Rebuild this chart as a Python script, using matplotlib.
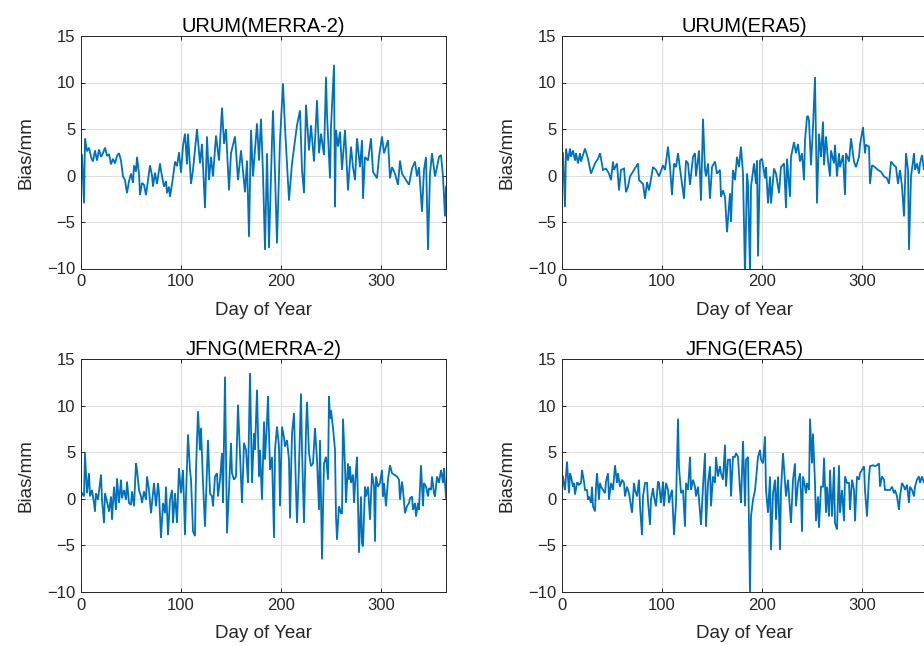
import matplotlib
matplotlib.use("Agg")
import matplotlib.pyplot as plt

plt.rcParams['font.family'] = ['Liberation Sans', 'DejaVu Sans']

# ---- URUM, MERRA-2 ----
urum_merra_day = [1, 3, 4, 6, 8, 10, 12, 14, 16, 18, 20, 22, 24, 26, 28, 30, 32, 34, 36, 38,
                  40, 42, 44, 46, 48, 50, 52, 53, 55, 56, 58, 59, 61, 63, 65, 67, 69, 71, 72, 74,
                  76, 79, 80, 83, 85, 86, 88, 89, 92, 94, 96, 98, 100, 102, 104, 106, 107, 110, 112, 116,
                  119, 121, 124, 126, 128, 130, 132, 135, 138, 141, 143, 145, 148, 150, 154, 157, 160, 164, 166, 168,
                  170, 172, 176, 178, 180, 182, 184, 186, 188, 191, 192, 194, 196, 199, 202, 204, 206, 208, 211, 214,
                  216, 219, 221, 223, 225, 228, 230, 233, 236, 238, 240, 243, 245, 246, 249, 250, 253, 254, 255, 257,
                  259, 261, 264, 267, 270, 272, 274, 276, 279, 281, 282, 284, 287, 290, 292, 296, 298, 301, 303, 307,
                  309, 311, 314, 317, 319, 321, 328, 331, 334, 336, 338, 341, 343, 345, 347, 349, 351, 354, 356, 358,
                  360, 362, 364, 365]
urum_merra_bias = [2.2, -3.0, 4.0, 2.6, 3.0, 2.0, 1.5, 2.7, 1.6, 2.8, 2.0, 2.4, 3.0, 2.1, 2.3, 1.2, 1.8, 1.3, 2.1, 2.4,
                   1.6, -0.1, -0.5, -1.9, -0.6, 0.2, -0.8, 1.1, 0.4, 2.0, 0.2, -2.1, -0.8, -1.0, -2.1, -0.5, 1.1, 0.0, -1.2, 0.3,
                   -0.9, 1.3, 0.5, -1.2, -0.6, -1.9, -1.2, -2.3, -0.2, 1.5, 1.0, 2.5, 0.3, 3.2, 4.5, 1.2, 4.5, -0.9, 0.6, 5.0,
                   1.3, 3.4, -3.5, 4.2, -0.5, 2.0, -0.1, 4.3, 1.6, 7.3, 3.4, 5.0, -1.6, 2.4, 4.2, -0.5, 2.7, -1.8, 1.6, -6.6,
                   4.9, -0.1, 5.6, 1.6, 6.1, 0.2, -8.0, 2.4, -7.8, 3.8, 7.0, 0.2, -7.3, 3.8, 9.9, 5.2, 1.3, -2.7, 1.3, 3.8,
                   5.4, 7.0, 0.6, -1.9, 7.6, 2.7, 5.4, 1.5, 8.1, 2.4, 4.5, 2.2, 10.6, 6.6, -0.3, 5.2, 11.9, -3.4, 4.9, 3.1,
                   4.7, 0.6, 4.9, -1.6, 3.1, 0.9, -0.5, 4.0, 0.9, 3.8, -2.5, 2.0, 1.6, 4.0, 0.4, -0.3, 2.0, 4.2, 2.4, 3.8,
                   -0.3, 0.9, 0.2, -1.0, 1.6, 0.2, -1.0, 0.75, 1.5, -0.1, 0.9, -3.9, 0.6, 2.0, -8.0, 0.2, 2.4, -0.1, 0.9, 2.0,
                   2.2, -0.1, -4.4, -1.2]

# ---- URUM, ERA5 ----
urum_era5_day = [1, 3, 4, 6, 8, 9, 11, 13, 14, 16, 18, 19, 21, 23, 26, 29, 33, 36, 38, 41,
                 44, 47, 49, 51, 52, 55, 57, 59, 62, 64, 66, 68, 72, 76, 77, 81, 83, 85, 87, 91,
                 94, 97, 101, 103, 106, 108, 110, 112, 114, 116, 119, 122, 124, 126, 128, 131, 133, 134, 137, 139,
                 141, 143, 144, 146, 148, 150, 153, 155, 158, 159, 161, 163, 165, 168, 169, 171, 173, 175, 177, 179,
                 181, 183, 185, 186, 188, 189, 192, 194, 195, 196, 198, 200, 203, 204, 206, 208, 209, 212, 214, 217,
                 219, 222, 224, 225, 228, 229, 232, 234, 236, 238, 240, 242, 243, 245, 246, 247, 249, 251, 253, 255,
                 257, 259, 261, 262, 264, 266, 268, 269, 272, 273, 275, 277, 278, 281, 283, 284, 287, 289, 292, 294,
                 297, 298, 301, 303, 304, 307, 308, 310, 313, 316, 319, 322, 325, 327, 329, 332, 334, 336, 338, 340,
                 342, 344, 346, 347, 349, 352, 353, 355, 357, 358, 360, 362, 364, 365]
urum_era5_bias = [2.4, -3.4, 2.9, 1.6, 2.9, 2.0, 2.7, 1.6, 2.4, 1.3, 2.4, 1.5, 2.2, 2.9, 1.8, 0.2, 1.3, 1.8, 2.4, 0.6,
                  0.75, 0.2, -0.5, 1.5, 0.6, 1.3, -1.6, 0.6, 0.75, -1.8, -1.2, -0.1, 0.6, 1.3, -0.5, -0.9, -2.5, -0.7, -1.6, 0.9,
                  0.6, -0.1, 1.1, 0.6, 3.1, 0.9, -2.1, 1.3, 0.9, 2.4, -0.1, -2.5, 1.6, 1.3, -1.0, 2.0, 2.4, -0.1, 2.7, -2.7,
                  6.1, 0.6, -0.1, 1.3, -2.5, 0.9, 1.5, 0.2, 0.6, -2.3, -1.6, -2.3, -6.1, -1.9, -5.0, 0.6, -0.5, 2.0, 0.9, 3.1,
                  0.2, -10.8, 0.2, -0.9, -10.5, -1.2, 1.3, -0.9, 1.6, -8.7, 1.6, 1.8, -0.3, 0.9, -3.0, -0.1, -3.0, 0.75, 0.2, -1.9,
                  0.9, 1.3, -3.5, 1.8, -2.3, 2.0, 3.6, 2.4, 3.4, 1.5, 2.4, -0.5, 3.8, 6.3, 6.4, 5.9, 1.1, 5.2, 10.6, -3.0,
                  4.5, 2.0, 5.8, 1.1, 4.2, 1.6, -0.1, 2.7, 1.3, 3.3, -0.1, 2.4, 0.9, 2.2, -2.1, 2.4, 1.5, 4.0, 1.5, 0.9,
                  2.0, 3.3, 5.2, 2.4, 3.3, 3.1, -0.9, 1.1, 0.9, 0.6, 0.4, -0.1, -0.3, -0.9, 1.5, 1.1, 0.9, -0.9, 0.6, -1.2,
                  -4.4, 2.4, 0.6, -8.0, -0.1, 2.4, 0.6, 1.3, 0.2, 1.3, 2.2, 0.6, 1.5, 0.9]

# ---- JFNG, MERRA-2 ----
jfng_merra_day = [1, 3, 4, 6, 8, 9, 11, 13, 14, 15, 17, 20, 21, 23, 24, 27, 28, 30, 31, 33,
                  35, 36, 38, 40, 41, 43, 45, 46, 48, 50, 51, 53, 55, 56, 58, 60, 61, 63, 65, 66,
                  68, 70, 71, 73, 75, 77, 78, 80, 82, 84, 85, 87, 89, 91, 92, 94, 96, 98, 100, 102,
                  104, 105, 107, 109, 110, 112, 114, 115, 117, 119, 120, 122, 124, 127, 129, 131, 132, 134, 136, 137,
                  139, 141, 142, 144, 146, 148, 150, 151, 153, 155, 157, 159, 161, 163, 165, 167, 169, 171, 173, 174,
                  176, 178, 179, 181, 183, 184, 186, 187, 189, 191, 193, 194, 196, 198, 199, 201, 203, 204, 206, 208,
                  209, 211, 213, 215, 216, 218, 220, 221, 223, 225, 226, 228, 230, 232, 234, 236, 238, 239, 241, 243,
                  245, 247, 248, 249, 250, 252, 254, 255, 256, 258, 260, 261, 262, 264, 265, 267, 268, 269, 270, 272,
                  273, 275, 276, 278, 280, 281, 282, 284, 285, 287, 289, 291, 293, 294, 295, 297, 299, 301, 302, 303,
                  305, 307, 309, 311, 313, 316, 318, 319, 321, 322, 324, 326, 328, 329, 331, 332, 334, 335, 337, 338,
                  340, 342, 343, 345, 347, 348, 350, 351, 353, 354, 356, 358, 360, 362, 363, 365]
jfng_merra_bias = [0.6, 0.25, 4.9, 0.6, 2.75, 0.25, 0.95, -0.45, -1.35, 0.6, -0.1, 2.6, -0.1, -2.6, 0.6, -0.8, -1.35, 0.25, -2.25, 1.3,
                   -1.2, 2.2, -0.45, 2.05, 0.05, 0.95, -0.1, 1.85, -0.45, -0.65, 0.8, -0.8, 3.8, 3.1, 0.95, 0.25, -0.45, 0.8, -0.1, 2.4,
                   0.95, -1.55, -0.45, 1.7, -0.8, 1.7, 0.6, -4.2, -0.45, -1.55, 1.3, -3.9, -0.1, 0.95, -2.6, 0.6, -2.6, 3.3, 0.6, 3.1,
                   -3.9, 0.25, 6.9, 3.1, 2.05, -3.5, -4.0, 3.1, 9.4, 5.2, 7.6, 1.7, -3.0, 6.3, 0.6, 0.25, -0.8, 2.4, 2.75, 0.25,
                   2.05, 4.9, -0.45, 13.1, -3.7, 0.95, 6.0, 2.75, 2.05, 2.4, 10.1, 4.9, -0.45, 6.0, 5.25, 1.7, 13.5, 1.7, 7.0, 5.25,
                   11.7, 2.4, 5.25, -0.1, 8.3, 4.2, 8.3, 11.0, 3.1, 4.5, -4.2, 5.25, 7.75, 5.6, -0.8, 7.75, 6.6, 5.6, 6.3, 4.2,
                   -2.1, 7.0, 9.2, 0.95, -2.6, 3.5, 11.3, 5.25, -2.6, 7.4, 10.4, 4.9, 3.5, 3.8, 7.6, 4.2, -1.2, 6.3, -6.5, 3.8,
                   4.5, 2.05, 11.0, 8.6, 9.5, 7.6, 5.25, -1.9, -4.4, -0.8, -1.55, -1.55, 8.6, 3.5, -0.45, 3.8, 2.05, 3.5, 1.7, 2.6,
                   -0.45, 3.1, 4.5, -5.8, 0.25, -4.75, -5.1, 1.3, 0.25, 1.3, -2.25, 2.75, 1.3, -4.6, 2.4, 1.3, 1.7, 3.1, 0.25, 1.7,
                   -0.8, 2.05, 3.6, 2.75, 2.6, 2.4, 2.05, -0.1, 1.85, 0.95, -1.55, -0.8, -0.45, 0.05, 0.25, -1.2, -0.45, -1.9, -0.45, -1.2,
                   3.6, -0.8, 1.7, 1.3, 0.25, 1.15, 0.95, 2.4, 0.6, 0.25, 2.4, 1.7, 3.1, 1.7, 3.3, 0.1]

# ---- JFNG, ERA5 ----
jfng_era5_day = [1, 2, 3, 5, 7, 8, 9, 11, 12, 13, 15, 16, 17, 19, 20, 22, 23, 25, 26, 27,
                 29, 30, 31, 33, 34, 35, 37, 38, 39, 41, 43, 44, 46, 47, 49, 51, 53, 55, 56, 58,
                 60, 62, 63, 65, 67, 68, 70, 72, 73, 75, 77, 78, 80, 81, 83, 85, 86, 88, 89, 91,
                 92, 94, 96, 97, 99, 101, 102, 104, 106, 107, 109, 110, 112, 114, 116, 117, 119, 121, 123, 124,
                 126, 128, 129, 131, 133, 134, 136, 138, 139, 141, 143, 144, 146, 148, 149, 151, 153, 154, 156, 158,
                 159, 161, 163, 164, 166, 168, 169, 171, 173, 174, 176, 178, 179, 181, 183, 184, 186, 188, 189, 191,
                 193, 194, 196, 198, 199, 201, 203, 204, 206, 208, 209, 211, 213, 214, 216, 218, 219, 221, 223, 224,
                 226, 228, 229, 231, 233, 234, 236, 238, 239, 240, 241, 243, 244, 245, 247, 248, 250, 251, 253, 254,
                 256, 257, 259, 261, 262, 264, 265, 267, 268, 270, 272, 273, 275, 277, 278, 280, 282, 283, 285, 287,
                 288, 290, 292, 293, 295, 297, 298, 300, 302, 303, 305, 307, 308, 311, 313, 315, 317, 318, 320, 322,
                 323, 326, 328, 330, 332, 333, 335, 337, 338, 340, 342, 343, 345, 347, 348, 350, 352, 353, 355, 357,
                 358, 360, 362, 363, 364, 365]
jfng_era5_bias = [2.4, 1.5, 0.95, 4.0, 0.6, 2.75, 2.4, 1.3, 1.7, 0.45, 1.7, 1.7, 1.5, 1.7, 3.1, 1.85, 0.95, 0.95, -0.1, 0.25,
                  -0.45, 1.3, -0.8, -1.35, 1.3, 2.75, -0.1, 1.7, 1.3, 0.95, 0.6, 1.85, 2.75, -0.1, 1.7, 0.95, 3.6, 1.7, 2.75, 1.3,
                  2.05, 1.7, 0.25, 1.3, 0.6, -0.1, -1.5, 1.7, 0.95, 0.25, 2.05, -0.8, -3.9, 0.25, 1.7, 1.7, -0.3, -2.8, -0.1, 1.15,
                  0.25, -0.8, 1.85, 1.7, -0.45, 1.85, -0.8, 1.7, 0.95, -0.45, 0.6, 0.95, -3.9, -0.45, 8.6, 3.4, 0.6, 0.95, -3.0, 1.7,
                  0.95, 4.5, 0.95, 2.05, 1.3, 0.25, 1.3, -1.5, -2.8, 1.3, 4.9, -3.0, 1.7, 3.5, -0.8, 2.4, 1.7, 4.5, 2.4, 3.5,
                  2.75, 2.05, 5.8, 1.3, 4.2, 4.2, 0.25, 4.5, 4.5, 4.9, 4.5, 0.95, -0.45, 6.2, -0.8, 4.2, 4.5, -10.3, -1.9, -0.1,
                  0.95, 2.05, 4.5, 5.25, 4.2, 3.8, 6.7, 0.95, -1.5, 2.4, -5.5, 0.6, 2.05, -2.25, 2.4, -5.5, 0.95, 4.9, 1.7, 0.25,
                  2.05, -1.2, -2.6, 2.05, 3.8, -0.8, 1.7, 2.75, 0.6, -3.5, 2.4, 1.3, 0.6, 1.7, 0.95, 8.6, 3.8, 7.0, 1.7, -2.4,
                  0.25, -3.1, 1.3, 1.3, 4.4, -1.5, 1.3, -1.9, 3.1, -1.9, 3.4, -2.6, -3.3, 3.6, -1.5, 0.95, -2.4, 2.4, 1.7, 1.7,
                  -1.2, 2.05, 0.95, -2.4, 2.4, 2.05, 2.75, 3.1, 3.5, 0.95, -1.9, 2.4, 3.5, 3.6, 3.5, 3.6, 3.8, 1.3, 2.4, 2.05,
                  0.95, 0.95, 0.95, 1.3, 0.6, 0.95, 0.25, -1.2, 0.25, 1.7, 1.3, 0.95, 1.5, -0.45, 1.3, 0.95, 0.25, 1.3, 2.05, 2.4,
                  1.7, 2.4, 1.7, 2.2, 1.5, 2.0]

titles = ["URUM(MERRA-2)", "URUM(ERA5)", "JFNG(MERRA-2)", "JFNG(ERA5)"]
series = [(urum_merra_day, urum_merra_bias), (urum_era5_day, urum_era5_bias),
          (jfng_merra_day, jfng_merra_bias), (jfng_era5_day, jfng_era5_bias)]

W, H = 924, 646
fig = plt.figure(figsize=(W / 100, H / 100), dpi=100)

# axes boxes in pixels: (left, top, right, bottom)
boxes = [(81, 36, 446, 268.5), (562, 36, 927, 268.5),
         (81, 359, 446, 592), (562, 359, 927, 592)]

line_color = "#0072BD"
axis_color = "#262626"

for (l, t, r, b), title, (days, bias) in zip(boxes, titles, series):
    ax = fig.add_axes([l / W, 1 - b / H, (r - l) / W, (b - t) / H])
    ax.plot(days, bias, color=line_color, lw=1.3, solid_joinstyle='miter')
    ax.set_xlim(0, 365)
    ax.set_ylim(-10, 15)
    ax.set_xticks([0, 100, 200, 300])
    ax.set_yticks([-10, -5, 0, 5, 10, 15])
    ax.grid(True, color="#dedede", lw=0.8)
    ax.set_axisbelow(True)
    for s in ax.spines.values():
        s.set_color(axis_color)
        s.set_linewidth(0.7)
    ax.tick_params(direction='in', top=True, right=True, length=2.7, width=0.7,
                   colors=axis_color, labelsize=12, pad=4)
    ax.set_title(title, fontsize=14.5, color='black', pad=3)
    ax.set_xlabel("Day of Year", fontsize=13.5, color=axis_color, labelpad=9)
    ax.set_ylabel("Bias/mm", fontsize=13.5, color=axis_color, labelpad=9)

fig.savefig("out.png", dpi=100)
